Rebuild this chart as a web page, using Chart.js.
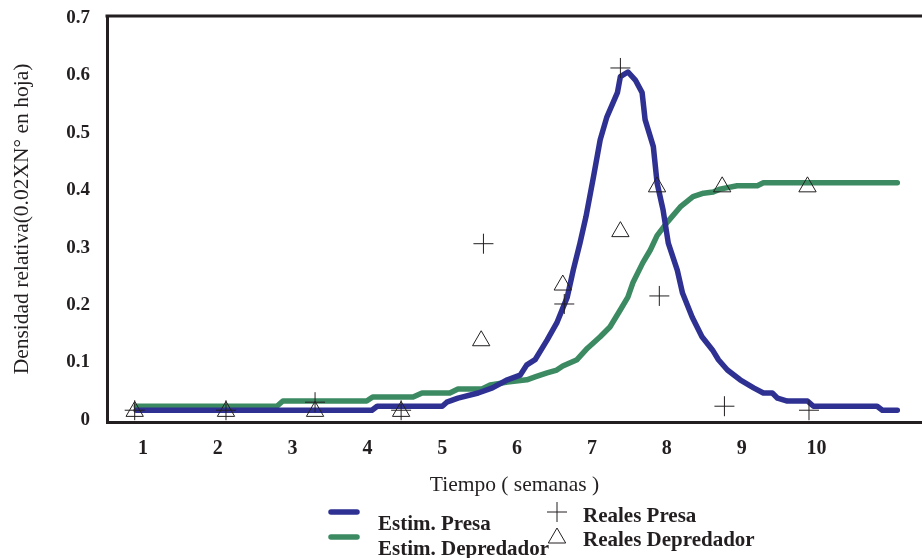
<!DOCTYPE html>
<html>
<head>
<meta charset="utf-8">
<script src="https://cdn.jsdelivr.net/npm/chart.js@4.4.0/dist/chart.umd.min.js"></script>
<style>
html, body { margin: 0; padding: 0; background: #fff; }
#wrap { width: 922px; height: 558px; }
</style>
</head>
<body>
<div id="wrap"><canvas id="myChart" width="922" height="558"></canvas></div>
<script>
// tick labels
const xTicks = [1, 2, 3, 4, 5, 6, 7, 8, 9, 10];
const yTicks = [0, 0.1, 0.2, 0.3, 0.4, 0.5, 0.6, 0.7];

// estimated prey (Estim. Presa)
const estPresaT = [0.91, 4.06, 4.13, 5.00, 5.06, 5.21, 5.48, 5.67, 5.87, 6.04, 6.13, 6.24, 6.40, 6.53, 6.67, 6.75, 6.84, 6.92,
  7.02, 7.11, 7.20, 7.34, 7.38, 7.48, 7.58, 7.67, 7.71, 7.82, 7.87, 7.95, 8.02, 8.14, 8.21, 8.34, 8.47, 8.61, 8.69,
  8.81, 8.98, 9.16, 9.29, 9.41, 9.48, 9.61, 9.88, 9.96, 10.81, 10.88, 11.08];
const estPresa = [0.017, 0.017, 0.024, 0.024, 0.031, 0.038, 0.047, 0.056, 0.070, 0.078, 0.096, 0.105, 0.139, 0.169, 0.214, 0.261, 0.308, 0.354,
  0.423, 0.488, 0.528, 0.570, 0.598, 0.606, 0.592, 0.570, 0.523, 0.476, 0.413, 0.366, 0.308, 0.261, 0.221, 0.179, 0.145, 0.122, 0.105,
  0.087, 0.070, 0.056, 0.047, 0.047, 0.038, 0.033, 0.033, 0.024, 0.024, 0.017, 0.017];

// estimated predator (Estim. Depredador)
const estDepT = [0.91, 2.79, 2.87, 3.99, 4.07, 4.61, 4.73, 5.10, 5.21, 5.53, 5.64, 5.87, 6.13, 6.24, 6.40, 6.53, 6.61, 6.80, 6.94,
  7.11, 7.24, 7.38, 7.48, 7.55, 7.68, 7.78, 7.87, 8.01, 8.18, 8.35, 8.49, 8.62, 8.71, 8.94, 9.21, 9.29, 11.08];
const estDep = [0.024, 0.024, 0.033, 0.033, 0.040, 0.040, 0.047, 0.047, 0.054, 0.054, 0.061, 0.066, 0.070, 0.075, 0.082, 0.087, 0.094, 0.105, 0.125,
  0.145, 0.162, 0.192, 0.214, 0.240, 0.274, 0.296, 0.321, 0.345, 0.371, 0.389, 0.395, 0.397, 0.402, 0.408, 0.408, 0.413, 0.413];

// observed values
const realPresaT = [0.89, 2.11, 3.30, 4.45, 5.55, 6.63, 7.38, 7.90, 8.77, 9.90];
const realPresa = [0.017, 0.017, 0.031, 0.017, 0.307, 0.202, 0.613, 0.216, 0.024, 0.017];
const realDepT = [0.89, 2.11, 3.30, 4.45, 5.52, 6.61, 7.38, 7.87, 8.74, 9.88];
const realDep = [0.015, 0.015, 0.015, 0.015, 0.138, 0.235, 0.328, 0.406, 0.406, 0.406];

const blue = '#2e3192';
const green = '#3b8a62';
const ink = '#231f20';
const serif = '"Liberation Serif", "Times New Roman", serif';

function pts(xs, ys) {
    return xs.map((x, i) => ({ x: x, y: ys[i] }));
}

// top frame line + legend under the axis title
const frameAndLegend = {
    id: 'frameAndLegend',
    afterDraw(chart) {
        const ctx = chart.ctx;
        const a = chart.chartArea;
        ctx.save();
        ctx.strokeStyle = ink;
        ctx.lineWidth = 3;
        ctx.beginPath();
        ctx.moveTo(a.left - 1.5, a.top);
        ctx.lineTo(a.right, a.top);
        ctx.stroke();

        ctx.lineCap = 'round';
        ctx.lineWidth = 5.5;
        ctx.strokeStyle = blue;
        ctx.beginPath(); ctx.moveTo(331, 512); ctx.lineTo(357, 512); ctx.stroke();
        ctx.strokeStyle = green;
        ctx.beginPath(); ctx.moveTo(331, 537); ctx.lineTo(357, 537); ctx.stroke();

        ctx.lineCap = 'butt';
        ctx.lineWidth = 1;
        ctx.strokeStyle = ink;
        ctx.beginPath();
        ctx.moveTo(547, 512); ctx.lineTo(567, 512);
        ctx.moveTo(557, 502); ctx.lineTo(557, 522);
        ctx.stroke();
        ctx.beginPath();
        ctx.moveTo(557, 528); ctx.lineTo(565.7, 543); ctx.lineTo(548.3, 543); ctx.closePath();
        ctx.stroke();

        ctx.fillStyle = ink;
        ctx.font = 'bold 21px ' + serif;
        ctx.textAlign = 'left';
        ctx.textBaseline = 'alphabetic';
        ctx.fillText('Estim. Presa', 378, 530);
        ctx.fillText('Estim. Depredador', 378, 555);
        ctx.fillText('Reales Presa', 583, 522);
        ctx.fillText('Reales Depredador', 583, 546);
        ctx.restore();
    }
};

const ctx = document.getElementById('myChart').getContext('2d');
const myChart = new Chart(ctx, {
    type: 'line',
    data: {
        datasets: [
            {
                label: 'Reales Presa',
                data: pts(realPresaT, realPresa),
                showLine: false,
                pointStyle: 'cross',
                pointRadius: 10,
                pointBorderWidth: 1,
                pointBorderColor: ink,
                pointBackgroundColor: 'transparent'
            },
            {
                label: 'Reales Depredador',
                data: pts(realDepT, realDep),
                showLine: false,
                pointStyle: 'triangle',
                pointRadius: 10,
                pointBorderWidth: 1,
                pointBorderColor: ink,
                pointBackgroundColor: 'transparent'
            },
            {
                label: 'Estim. Presa',
                data: pts(estPresaT, estPresa),
                borderColor: blue,
                borderWidth: 5.5,
                borderCapStyle: 'round',
                borderJoinStyle: 'round',
                pointRadius: 0,
                tension: 0
            },
            {
                label: 'Estim. Depredador',
                data: pts(estDepT, estDep),
                borderColor: green,
                borderWidth: 5.5,
                borderCapStyle: 'round',
                borderJoinStyle: 'round',
                pointRadius: 0,
                tension: 0
            }
        ]
    },
    options: {
        responsive: false,
        animation: false,
        layout: { autoPadding: false, padding: { top: 16, left: 0, right: 0, bottom: 0 } },
        plugins: {
            legend: { display: false },
            tooltip: { enabled: false }
        },
        scales: {
            x: {
                type: 'linear',
                min: 0.52,
                max: 11.41,
                afterBuildTicks: function (s) { s.ticks = xTicks.map(v => ({ value: v })); },
                afterFit: function (s) { s.height = 136; s.paddingLeft = 0; s.paddingRight = 0; },
                grid: { drawOnChartArea: false, drawTicks: false },
                border: { display: true, width: 3, color: ink },
                ticks: {
                    autoSkip: false,
                    maxRotation: 0,
                    padding: 15,
                    color: ink,
                    font: { family: serif, size: 20, weight: 'bold' },
                    callback: v => String(v)
                },
                title: {
                    display: true,
                    text: 'Tiempo ( semanas )',
                    color: ink,
                    font: { family: serif, size: 21.5 },
                    padding: { top: 0, bottom: 60 }
                }
            },
            y: {
                min: -0.0035,
                max: 0.7035,
                afterBuildTicks: function (s) { s.ticks = yTicks.map(v => ({ value: v })); },
                afterFit: function (s) { s.width = 107; s.paddingTop = 0; s.paddingBottom = 0; },
                grid: { drawOnChartArea: false, drawTicks: false },
                border: { display: true, width: 3, color: ink },
                ticks: {
                    autoSkip: false,
                    padding: 17,
                    color: ink,
                    font: { family: serif, size: 19, weight: 'bold' },
                    callback: v => (v === 0 ? '0' : v.toFixed(1))
                },
                title: {
                    display: true,
                    text: 'Densidad relativa(0.02XN° en hoja)',
                    color: ink,
                    font: { family: serif, size: 21.5 },
                    padding: { top: 9, bottom: 0 }
                }
            }
        }
    },
    plugins: [frameAndLegend]
});
</script>
</body>
</html>
